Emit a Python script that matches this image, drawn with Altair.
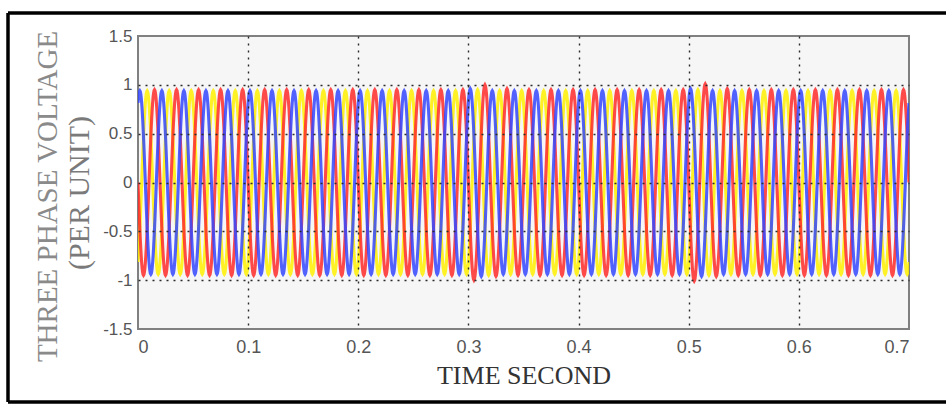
import numpy as np
import pandas as pd
import altair as alt

# ---- values ----
FREQ_HZ = 50                     # 5 cycles per 0.1 s
T_END = 0.7
X_TICKS = [0, 0.1, 0.2, 0.3, 0.4, 0.5, 0.6, 0.7]
Y_TICKS = [-1.5, -1, -0.5, 0, 0.5, 1, 1.5]

PHASE_NAMES = ["Phase B", "Phase A", "Phase C"]          # draw order
PHASE_COLORS = ["#fff000", "#ff2a2a", "#3246ff"]
PHASE_ANGLE_DEG = [-60, 180, 60]

# peak value of each of the 35 cycles, per phase
AMP_B = [0.94, 0.94, 0.94, 0.94, 0.94, 0.94, 0.94, 0.94, 0.94, 0.94,
         0.94, 0.94, 0.94, 0.94, 0.94, 0.95, 0.94, 0.94, 0.94, 0.94,
         0.94, 0.94, 0.94, 0.94, 0.94, 0.95, 0.94, 0.94, 0.94, 0.94,
         0.94, 0.94, 0.94, 0.94, 0.94]
AMP_A = [0.95, 0.95, 0.95, 0.95, 0.95, 0.95, 0.95, 0.95, 0.95, 0.95,
         0.95, 0.95, 0.95, 0.95, 0.95, 1.0, 0.96, 0.95, 0.95, 0.95,
         0.95, 0.95, 0.95, 0.95, 0.95, 1.01, 0.96, 0.95, 0.95, 0.95,
         0.95, 0.95, 0.95, 0.95, 0.95]
AMP_C = [0.94, 0.94, 0.94, 0.94, 0.94, 0.94, 0.94, 0.94, 0.94, 0.94,
         0.94, 0.94, 0.94, 0.94, 0.94, 0.96, 0.94, 0.94, 0.94, 0.94,
         0.94, 0.94, 0.94, 0.94, 0.94, 0.96, 0.94, 0.94, 0.94, 0.94,
         0.94, 0.94, 0.94, 0.94, 0.94]
AMPS = [AMP_B, AMP_A, AMP_C]

SAMPLES_PER_CYCLE = 48

# ---- build waveform tables ----
n_cycles = len(AMP_A)
t = np.linspace(0, T_END, n_cycles * SAMPLES_PER_CYCLE + 1)
cycle_idx = np.minimum((t * FREQ_HZ).astype(int), n_cycles - 1)

W, H = 771, 293

x_axis = alt.Axis(values=X_TICKS, format=".1~f", title="TIME SECOND",
                  grid=True,
                  gridOpacity=alt.condition("datum.value > 0.05 && datum.value < 0.65",
                                            alt.value(1), alt.value(0)),
                  gridDash=[2, 5], gridColor="#2a2a2a", gridWidth=1.4,
                  ticks=False, domain=False, labelPadding=9,
                  labelFont="Liberation Sans", labelFontSize=18, labelColor="#555555",
                  titleFont="Liberation Serif", titleFontSize=26, titleFontWeight="normal",
                  titleColor="#333333", titleY=54, titleBaseline="alphabetic",
                  zindex=1)
y_axis = alt.Axis(values=Y_TICKS, title="THREE PHASE VOLTAGE",
                  labelExpr="datum.value < 0 ? '-' + format(-datum.value, '') : format(datum.value, '')",
                  grid=True,
                  gridOpacity=alt.condition("abs(datum.value) < 1.2",
                                            alt.value(1), alt.value(0)),
                  gridDash=[2, 5], gridColor="#2a2a2a", gridWidth=1.4,
                  ticks=False, domain=False, labelPadding=6,
                  labelFont="Liberation Sans", labelFontSize=17, labelColor="#555555",
                  titleFont="Liberation Serif", titleFontSize=29, titleFontWeight="normal",
                  titleColor="#8a8a8a", titleX=-91, titleY=160, titleAngle=270,
                  titleAlign="center", titleBaseline="middle",
                  zindex=1)

xs = alt.Scale(domain=[0, T_END], nice=False, zero=False)
ys = alt.Scale(domain=[-1.5, 1.5], nice=False)

layers = []
for name, color, ang, amp in zip(PHASE_NAMES, PHASE_COLORS, PHASE_ANGLE_DEG, AMPS):
    a = np.array(amp)[cycle_idx]
    v = a * np.sin(2 * np.pi * FREQ_HZ * t + np.deg2rad(ang))
    df = pd.DataFrame({"t": np.round(t, 6), "v": np.round(v, 4), "phase": name})
    layers.append(
        alt.Chart(df).mark_line(color=color, strokeWidth=3.1, opacity=0.85, clip=True)
        .encode(x=alt.X("t:Q", scale=xs, axis=x_axis),
                y=alt.Y("v:Q", scale=ys, axis=y_axis))
    )

dummy = pd.DataFrame({"k": [0]})
line2 = alt.Chart(dummy).mark_text(text="(PER UNIT)", angle=270, align="center",
                                   baseline="middle", font="Liberation Serif",
                                   fontSize=30, color="#7a7a7a").encode(
    x=alt.value(-58), y=alt.value(157))

frame_top = alt.Chart(dummy).mark_rule(color="#000000", strokeWidth=3.5).encode(
    x=alt.value(-130), x2=alt.value(810), y=alt.value(-23))
frame_bottom = alt.Chart(dummy).mark_rule(color="#000000", strokeWidth=3.5).encode(
    x=alt.value(-130), x2=alt.value(810), y=alt.value(366))
frame_left = alt.Chart(dummy).mark_rule(color="#000000", strokeWidth=3.5).encode(
    x=alt.value(-130), y=alt.value(-23), y2=alt.value(366))

chart = alt.layer(*layers, line2, frame_top, frame_bottom, frame_left).properties(
    width=W, height=H,
    autosize=alt.AutoSizeParams(type="none"),
    padding={"left": 138, "top": 36, "right": 37, "bottom": 76},
    background="#ffffff",
).configure_view(stroke="#808080", strokeWidth=2, fill="#f6f6f6")

chart.save("out.html", embed_options={"renderer": "svg", "actions": False})
